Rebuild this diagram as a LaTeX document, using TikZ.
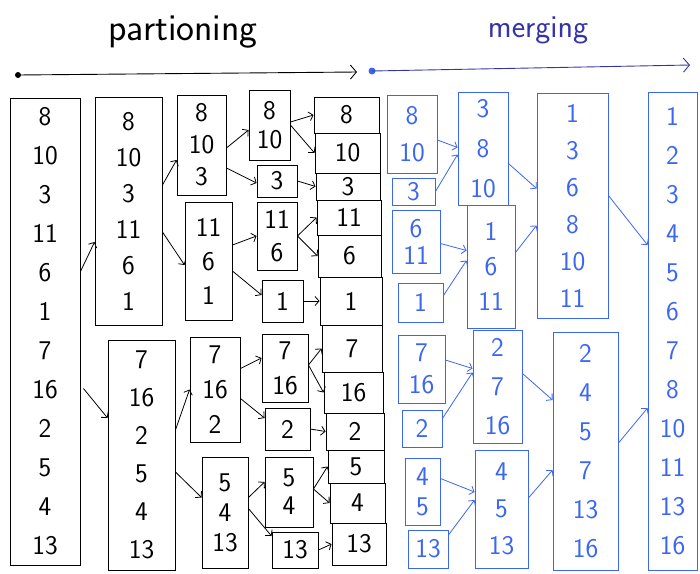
\documentclass[tikz,border=0pt]{standalone}
\usepackage{tikz}
\usetikzlibrary{arrows.meta}
\definecolor{penblue}{HTML}{3B66F0}
\definecolor{inkblue}{HTML}{3434A8}

\begin{document}
\begin{tikzpicture}[
      x=1pt, y=-1pt,
      font=\sffamily,
      box/.style={draw, line width=0.9pt, inner sep=0pt, align=center},
      bbox/.style={box, draw=penblue, text=penblue},
      nums/.style={font=\sffamily\fontsize{27}{#1}\selectfont},
      arr/.style={-{Straight Barb[length=4pt, width=9pt]}, line width=0.8pt},
      barr/.style={arr, penblue},
      long/.style={-{Straight Barb[length=6pt, width=14pt]}, line width=0.9pt},
    ]
    \useasboundingbox (0,0) rectangle (700,573);

    % headings
    \node[font=\sffamily\fontsize{38}{42}\selectfont] (ptitle) at (183,32) {partioning};
    \node[font=\sffamily\fontsize{32}{36}\selectfont, text=inkblue] (mtitle) at (538,30) {merging};
    \coordinate (pstart) at (18,75);
    \coordinate (pend) at (357,72);
    \coordinate (mstart) at (372,71);
    \coordinate (mend) at (690,65);
    \fill (pstart) circle (3pt);
    \draw[long] (pstart) -- (pend);
    \fill[penblue] (mstart) circle (3.5pt);
    \draw[long, inkblue] (mstart) -- (mend);

    % partitioning
    \node[box, nums=39, minimum width=70, minimum height=467] (p1) at (45,331.5) {8\\10\\3\\11\\6\\1\\7\\16\\2\\5\\4\\13};
    \node[box, nums=36, minimum width=67, minimum height=228] (p2a) at (128.5,211) {8\\10\\3\\11\\6\\1};
    \node[box, nums=38, minimum width=67, minimum height=230] (p2b) at (141.5,455) {7\\16\\2\\5\\4\\13};
    \node[box, nums=32, minimum width=49, minimum height=100] (p3a) at (201.5,145) {8\\10\\3};
    \node[box, nums=34, minimum width=47, minimum height=118] (p3b) at (208.5,261) {11\\6\\1};
    \node[box, nums=35, minimum width=50, minimum height=105] (p3c) at (215,389.5) {7\\16\\2};
    \node[box, nums=30, minimum width=46, minimum height=111] (p3d) at (225,512.5) {5\\4\\13};
    \node[box, nums=29, minimum width=41, minimum height=70] (p4a) at (269.5,125) {8\\10};
    \node[box, nums=30, minimum width=40, minimum height=32] (p4b) at (277,181) {3};
    \node[box, nums=33, minimum width=40, minimum height=68] (p4c) at (277,236) {11\\6};
    \node[box, nums=30, minimum width=41, minimum height=42] (p4d) at (282.5,301) {1};
    \node[box, nums=35, minimum width=46, minimum height=68] (p4e) at (285,368) {7\\16};
    \node[box, nums=30, minimum width=45, minimum height=42] (p4f) at (287.5,429) {2};
    \node[box, nums=28, minimum width=48, minimum height=70] (p4g) at (289,492) {5\\4};
    \node[box, nums=30, minimum width=46, minimum height=36] (p4h) at (295,550) {13};

    % split into single cells
    \node[box, nums=30, minimum width=65, minimum height=36] (s1) at (346.5,115) {8};
    \node[box, nums=30, minimum width=65, minimum height=40] (s2) at (347.5,153) {10};
    \node[box, nums=30, minimum width=64, minimum height=27] (s3) at (348,186.5) {3};
    \node[box, nums=30, minimum width=64, minimum height=35] (s4) at (349,217.5) {11};
    \node[box, nums=30, minimum width=63, minimum height=42] (s5) at (349.5,256) {6};
    \node[box, nums=30, minimum width=62, minimum height=48] (s6) at (351,301) {1};
    \node[box, nums=30, minimum width=60, minimum height=47] (s7) at (352,348.5) {7};
    \node[box, nums=30, minimum width=59, minimum height=41] (s8) at (353.5,392.5) {16};
    \node[box, nums=30, minimum width=58, minimum height=37] (s9) at (355,431.5) {2};
    \node[box, nums=30, minimum width=56, minimum height=33] (s10) at (356,466.5) {5};
    \node[box, nums=30, minimum width=55, minimum height=40] (s11) at (357.5,503) {4};
    \node[box, nums=30, minimum width=54, minimum height=42] (s12) at (359,544) {13};

    \draw[arr] ([shift={(0,-60)}]p1.east) -- ([shift={(0,31)}]p2a.west);
    \draw[arr] ([shift={(3,57)}]p1.east) -- ([shift={(0,-37)}]p2b.west);
    \draw[arr] ([shift={(0,-26)}]p2a.east) -- ([shift={(0,15)}]p3a.west);
    \draw[arr] ([shift={(0,21)}]p2a.east) -- ([shift={(0,4)}]p3b.west);
    \draw[arr] ([shift={(0,-25)}]p2b.east) -- (p3c.west);
    \draw[arr] ([shift={(0,17)}]p2b.east) -- ([shift={(0,-15)}]p3d.west);
    \draw[arr] ([shift={(0,3)}]p3a.east) -- ([shift={(0,5)}]p4a.west);
    \draw[arr] ([shift={(0,23)}]p3a.east) -- ([shift={(0,2)}]p4b.west);
    \draw[arr] ([shift={(0,-16)}]p3b.east) -- (p4c.west);
    \draw[arr] ([shift={(0,10)}]p3b.east) -- ([shift={(0,-6)}]p4d.west);
    \draw[arr] ([shift={(0,-21)}]p3c.east) -- ([shift={(0,-10)}]p4e.west);
    \draw[arr] ([shift={(0,9)}]p3c.east) -- ([shift={(0,-11)}]p4f.west);
    \draw[arr] ([shift={(0,-15)}]p3d.east) -- ([shift={(0,-10)}]p4g.west);
    \draw[arr] ([shift={(0,-4)}]p3d.east) -- ([shift={(0,-14)}]p4h.west);
    \draw[arr] ([shift={(0,-3)}]p4a.east) -- (s1.west);
    \draw[arr] (p4a.east) -- (s2.west);
    \draw[arr] (p4b.east) -- (s3.west);
    \draw[arr] (p4c.east) -- (s4.west);
    \draw[arr] (p4c.east) -- (s5.west);
    \draw[arr] (p4d.east) -- (s6.west);
    \draw[arr] ([shift={(0,-3)}]p4e.east) -- (s7.west);
    \draw[arr] ([shift={(0,-3)}]p4e.east) -- (s8.west);
    \draw[arr] (p4f.east) -- (s9.west);
    \draw[arr] ([shift={(0,-3)}]p4g.east) -- (s10.west);
    \draw[arr] ([shift={(0,-3)}]p4g.east) -- (s11.west);
    \draw[arr] (p4h.east) -- (s12.west);

    % merging
    \node[bbox, nums=37, minimum width=50, minimum height=78] (m1a) at (412,134) {8\\10};
    \node[bbox, nums=30, minimum width=43, minimum height=27] (m1b) at (413.5,191.5) {3};
    \node[bbox, nums=27, minimum width=48, minimum height=63] (m1c) at (416,241.5) {6\\11};
    \node[bbox, nums=30, minimum width=45, minimum height=39] (m1d) at (420.5,302.5) {1};
    \node[bbox, nums=32, minimum width=47, minimum height=68] (m1e) at (421.5,369) {7\\16};
    \node[bbox, nums=30, minimum width=40, minimum height=37] (m1f) at (422,428.5) {2};
    \node[bbox, nums=30, minimum width=35, minimum height=67] (m1g) at (422.5,491.5) {4\\5};
    \node[bbox, nums=30, minimum width=40, minimum height=38] (m1h) at (428,549) {13};
    \node[bbox, nums=40, minimum width=50, minimum height=113] (m2a) at (483,148.5) {3\\8\\10};
    \node[bbox, nums=35, minimum width=48, minimum height=123] (m2b) at (491,266.5) {1\\6\\11};
    \node[bbox, nums=39, minimum width=49, minimum height=113] (m2c) at (497.5,386.5) {2\\7\\16};
    \node[bbox, nums=37, minimum width=53, minimum height=118] (m2d) at (501.5,509) {4\\5\\13};
    \node[bbox, nums=37, minimum width=71, minimum height=225] (m3a) at (572.5,205.5) {1\\3\\6\\8\\10\\11};
    \node[bbox, nums=39, minimum width=65, minimum height=238] (m3b) at (585.5,451) {2\\4\\5\\7\\13\\16};
    \node[bbox, nums=39, minimum width=49, minimum height=478] (m4) at (672.5,331) {1\\2\\3\\4\\5\\6\\7\\8\\10\\11\\13\\16};

    \draw[barr] ([shift={(0,6)}]m1a.east) -- ([shift={(0,-1)}]m2a.west);
    \draw[barr] (m1b.east) -- ([shift={(0,6)}]m2a.west);
    \draw[barr] ([shift={(0,2)}]m1c.east) -- ([shift={(0,-16)}]m2b.west);
    \draw[barr] ([shift={(0,-7)}]m1d.east) -- ([shift={(0,-6)}]m2b.west);
    \draw[barr] ([shift={(0,-9)}]m1e.east) -- ([shift={(0,-18)}]m2c.west);
    \draw[barr] ([shift={(0,-10)}]m1f.east) -- ([shift={(0,-14)}]m2c.west);
    \draw[barr] ([shift={(0,-13)}]m1g.east) -- ([shift={(0,-17)}]m2d.west);
    \draw[barr] ([shift={(0,-14)}]m1h.east) -- ([shift={(0,-9)}]m2d.west);
    \draw[barr] ([shift={(0,15)}]m2a.east) -- ([shift={(0,-17)}]m3a.west);
    \draw[barr] ([shift={(0,-14)}]m2b.east) -- ([shift={(0,20)}]m3a.west);
    \draw[barr] ([shift={(0,-13)}]m2c.east) -- ([shift={(0,-51)}]m3b.west);
    \draw[barr] ([shift={(0,-11)}]m2d.east) -- ([shift={(0,19)}]m3b.west);
    \draw[barr] ([shift={(0,-10)}]m3a.east) -- ([shift={(0,-86)}]m4.west);
    \draw[barr] ([shift={(0,-8)}]m3b.east) -- ([shift={(0,77)}]m4.west);
  \end{tikzpicture}
\end{document}
